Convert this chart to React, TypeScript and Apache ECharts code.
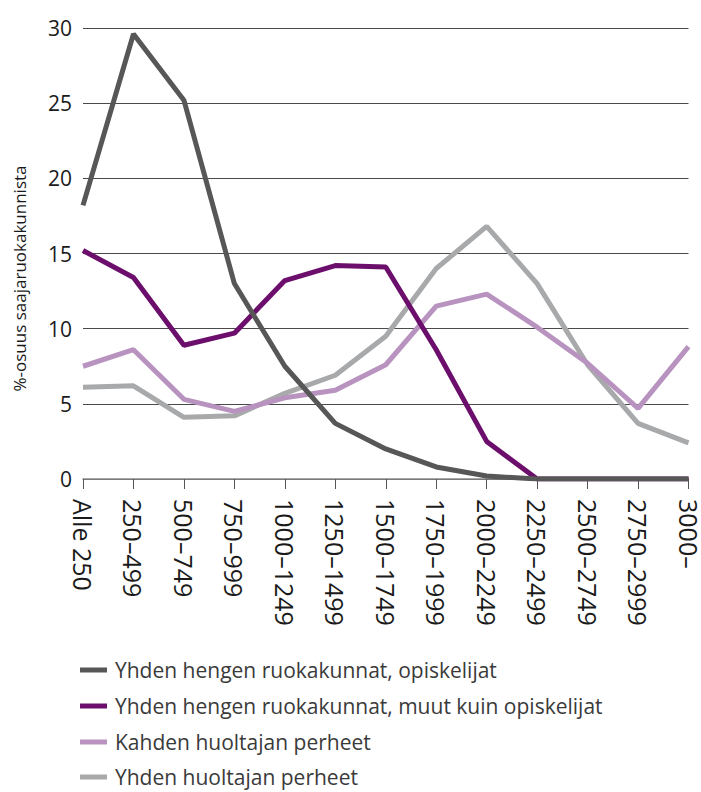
import React, { useEffect, useRef } from "react";
import * as echarts from "echarts";

const categories = [
  "Alle 250", "250–499", "500–749", "750–999", "1000–1249", "1250–1499",
  "1500–1749", "1750–1999", "2000–2249", "2250–2499", "2500–2749", "2750–2999", "3000–",
];
const seriesNames = [
  "Yhden hengen ruokakunnat, opiskelijat",
  "Yhden hengen ruokakunnat, muut kuin opiskelijat",
  "Kahden huoltajan perheet",
  "Yhden huoltajan perheet",
];
const opiskelijat = [18.2, 29.6, 25.2, 13.0, 7.5, 3.7, 2.0, 0.8, 0.2, 0, 0, 0, 0];
const muut = [15.2, 13.4, 8.9, 9.7, 13.2, 14.2, 14.1, 8.6, 2.5, 0, 0, 0, 0];
const kahden = [7.5, 8.6, 5.3, 4.5, 5.4, 5.9, 7.6, 11.5, 12.3, 10.1, 7.7, 4.7, 8.8];
const yhdenHuoltajan = [6.1, 6.2, 4.1, 4.2, 5.7, 6.9, 9.5, 14.0, 16.8, 13.0, 7.6, 3.7, 2.4];
const colors = ["#575757", "#6c0f6c", "#b993bf", "#a8a9ab"];
const yTicks = { min: 0, max: 30, interval: 5 };

const FONT = "Open Sans";

export default function App() {
  const ref = useRef<HTMLDivElement>(null);
  useEffect(() => {
    if (!ref.current) return;
    const chart = echarts.init(ref.current, null, { renderer: "svg" });
    const values = [opiskelijat, muut, kahden, yhdenHuoltajan];
    const zs = [5, 4, 3, 2];
    const legendTops = [659, 695, 731, 766];
    chart.setOption({
      animation: false,
      textStyle: { fontFamily: FONT },
      grid: { left: 83, right: 11, top: 28, bottom: 313, containLabel: false },
      legend: seriesNames.map((name, i) => ({
        orient: "vertical",
        left: 80,
        top: legendTops[i],
        padding: 0,
        itemWidth: 27,
        itemHeight: 5,
        icon: "rect",
        data: [name],
        textStyle: { fontFamily: FONT, fontSize: 21, lineHeight: 22, color: "#3a3a3a", padding: [0, 0, 0, 3] },
      })),
      xAxis: {
        type: "category",
        data: categories,
        boundaryGap: false,
        axisLine: { lineStyle: { color: "#8a8a8a", width: 1.5 } },
        axisTick: { show: true, length: 10, lineStyle: { color: "#555", width: 1 } },
        axisLabel: {
          rotate: -90,
          margin: 20,
          interval: 0,
          fontFamily: FONT,
          fontSize: 25,
          lineHeight: 18,
          color: "#1a1a1a",
        },
      },
      yAxis: {
        type: "value",
        min: yTicks.min,
        max: yTicks.max,
        interval: yTicks.interval,
        name: "%-osuus saajaruokakunnista",
        nameLocation: "middle",
        nameGap: 55,
        nameTextStyle: { fontFamily: FONT, fontSize: 17, color: "#1a1a1a", padding: [0, 0, 0, -50] },
        axisLine: { show: false },
        axisTick: { show: false },
        axisLabel: { margin: 11, fontFamily: FONT, fontSize: 21, color: "#1a1a1a" },
        splitLine: { lineStyle: { color: "#4a4a4a", width: 1 } },
      },
      series: seriesNames.map((name, i) => ({
        name,
        type: "line",
        data: values[i],
        z: zs[i],
        symbol: "none",
        lineStyle: { color: colors[i], width: 5 },
        itemStyle: { color: colors[i] },
      })),
    });
    return () => chart.dispose();
  }, []);
  return (
    <div
      ref={ref}
      style={{ position: "fixed", left: 0, top: 0, width: 701, height: 792, background: "#fff" }}
    />
  );
}
